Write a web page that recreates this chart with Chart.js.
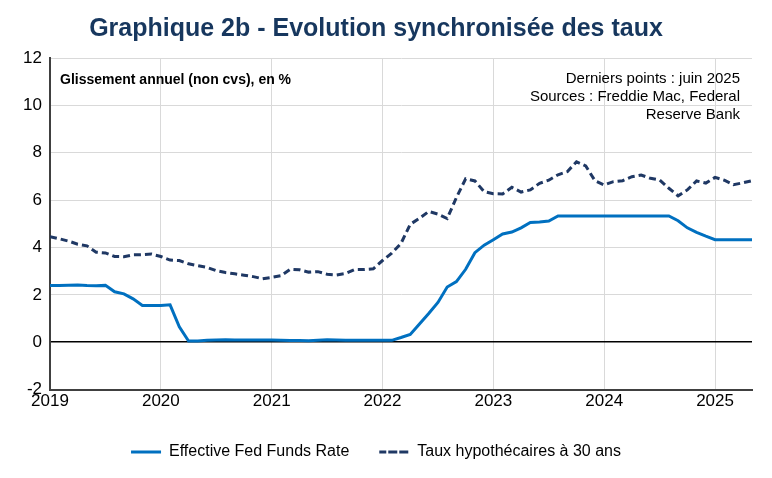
<!DOCTYPE html>
<html><head><meta charset="utf-8">
<script src="https://cdn.jsdelivr.net/npm/chart.js@4"></script>
<style>body{margin:0;background:#fff;font-family:Arial,"Liberation Sans",sans-serif}#w{position:relative;width:772px;height:478px}</style>
</head><body><div id="w"><canvas id="c" width="772" height="478"></canvas></div>
<script>
const years=["2019","2020","2021","2022","2023","2024","2025"];
const fedFunds=[2.40,2.40,2.41,2.42,2.39,2.38,2.40,2.13,2.04,1.83,1.55,1.55,
1.55,1.58,0.65,0.05,0.05,0.08,0.09,0.10,0.09,0.09,0.09,0.09,
0.09,0.08,0.07,0.07,0.06,0.08,0.10,0.09,0.08,0.08,0.08,0.08,
0.08,0.08,0.20,0.33,0.77,1.21,1.68,2.33,2.56,3.08,3.78,4.10,
4.33,4.57,4.65,4.83,5.06,5.08,5.12,5.33,5.33,5.33,5.33,5.33,
5.33,5.33,5.33,5.33,5.33,5.33,5.33,5.33,5.13,4.83,4.64,4.48,
4.33,4.33,4.33,4.33,4.33,4.33];
const mortgage=[4.46,4.37,4.27,4.14,4.07,3.80,3.77,3.62,3.61,3.69,3.70,3.72,
3.62,3.47,3.45,3.31,3.23,3.16,3.02,2.94,2.89,2.83,2.77,2.68,
2.74,2.81,3.08,3.06,2.96,2.98,2.87,2.84,2.90,3.07,3.07,3.10,
3.45,3.76,4.17,4.98,5.23,5.52,5.41,5.22,6.11,6.90,6.81,6.36,
6.27,6.26,6.54,6.34,6.43,6.71,6.84,7.07,7.20,7.62,7.44,6.82,
6.64,6.78,6.82,6.99,7.06,6.92,6.85,6.50,6.18,6.43,6.81,6.72,
6.96,6.84,6.65,6.73,6.82,6.82];
const pts=a=>a.map((v,i)=>({x:i,y:v}));
const F='Arial,"Liberation Sans"';
const notes={id:'notes',afterDraw(ch){const c=ch.ctx,a=ch.chartArea;c.save();c.fillStyle='#000';
c.font='bold 14px '+F;c.textAlign='left';c.textBaseline='top';
c.fillText('Glissement annuel (non cvs), en %',a.left+10,a.top+15);
c.font='15px '+F;c.textAlign='right';
['Derniers points : juin 2025','Sources : Freddie Mac, Federal','Reserve Bank'].forEach((t,i)=>c.fillText(t,a.right-12,a.top+13+i*18));
c.restore();}};
new Chart(document.getElementById('c'),{type:'line',
data:{datasets:[
{label:'Effective Fed Funds Rate',data:pts(fedFunds),borderColor:'#0070c0',backgroundColor:'#0070c0',borderWidth:3,pointRadius:0,tension:0},
{label:'Taux hypothécaires à 30 ans',data:pts(mortgage),borderColor:'#1f3864',backgroundColor:'#1f3864',borderWidth:3,borderDash:[7,4],pointRadius:0,tension:0}]},
options:{responsive:false,animation:false,
layout:{padding:{left:0,right:20,top:0,bottom:8}},
plugins:{title:{display:true,text:'Graphique 2b - Evolution synchronisée des taux',color:'#17375e',font:{size:25,weight:'bold',family:F},padding:{top:14,bottom:14}},
legend:{position:'bottom',labels:{boxWidth:30,boxHeight:0,color:'#000',font:{size:16,family:F},padding:30,
generateLabels:ch=>ch.data.datasets.map((d,i)=>({text:d.label,strokeStyle:d.borderColor,fillStyle:d.borderColor,lineWidth:3,lineDash:d.borderDash||[],datasetIndex:i}))}},tooltip:{enabled:false}},
scales:{x:{type:'linear',min:0,max:76,border:{color:'#404040',width:2},
grid:{color:'#d9d9d9',drawTicks:false},
afterBuildTicks:s=>{s.ticks=years.map((y,i)=>({value:i*12}));},
ticks:{color:'#000',font:{size:17,family:F},padding:2,callback:v=>years[v/12]}},
y:{min:-2,max:12,border:{color:'#404040',width:2},afterFit:s=>{s.width=50;},
grid:{color:c=>c.tick.value===0?'#000':'#d9d9d9',lineWidth:c=>c.tick.value===0?1.5:1,drawTicks:false},
ticks:{stepSize:2,color:'#000',font:{size:17,family:F},padding:8}}}},
plugins:[notes]});
</script></body></html>
